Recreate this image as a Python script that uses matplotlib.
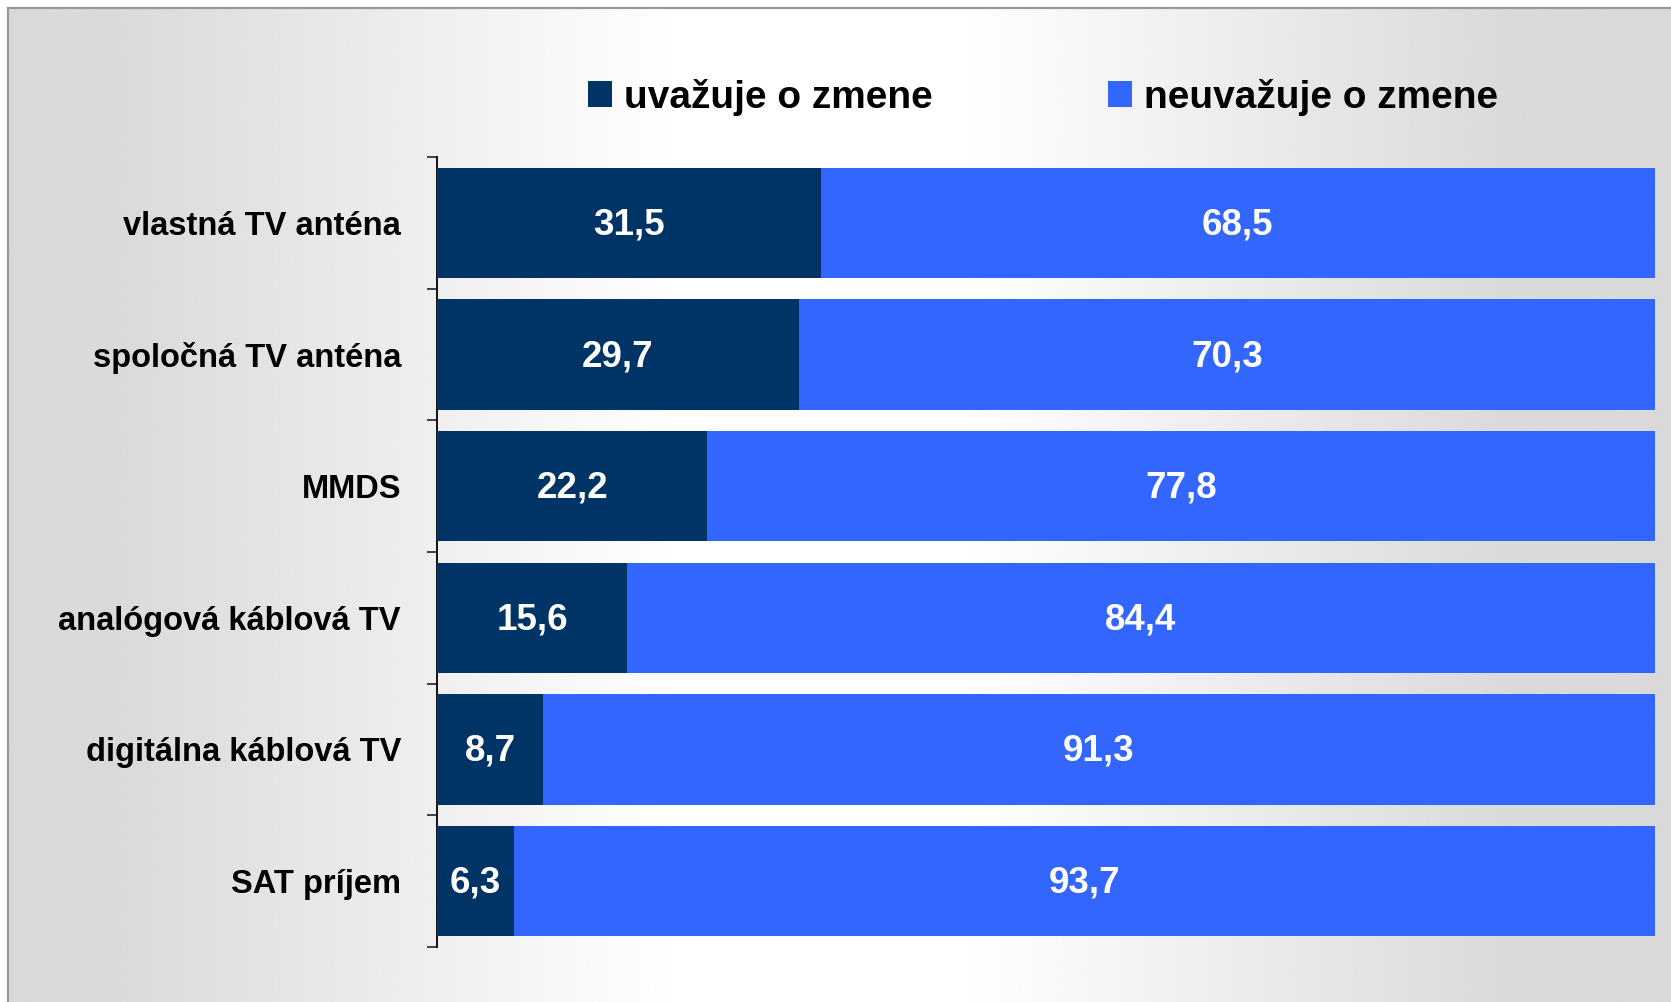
import numpy as np
import matplotlib.pyplot as plt
from matplotlib.patches import Patch
from matplotlib.lines import Line2D

plt.rcParams['font.family'] = ['Liberation Sans', 'DejaVu Sans']

# dati del grafico
kategorie = ['vlastná TV anténa', 'spoločná TV anténa', 'MMDS',
             'analógová káblová TV', 'digitálna káblová TV', 'SAT príjem']
uvazuje = [31.5, 29.7, 22.2, 15.6, 8.7, 6.3]
neuvazuje = [68.5, 70.3, 77.8, 84.4, 91.3, 93.7]
serie_nazvy = ['uvažuje o zmene', 'neuvažuje o zmene']
farby = ['#003366', '#3366FF']

W, H = 1671, 1002
fig = plt.figure(figsize=(W / 100, H / 100), dpi=100)
fig.patch.set_facecolor('white')

# sfondo con gradiente orizzontale (grigio - bianco - grigio)
bg = fig.add_axes([8 / W, 0, 1 - 8 / W, 1 - 8 / H], zorder=-5)
px = np.linspace(8, W, 800)
grad = np.interp(px, [8, 120, 680, 960, 1500, W], [0.85, 0.855, 1.0, 1.0, 0.855, 0.85])
bg.imshow(np.tile(grad, (2, 1)), cmap='gray', vmin=0, vmax=1,
          aspect='auto', extent=[0, 1, 0, 1], interpolation='bilinear')
bg.set_axis_off()
fig.add_artist(Line2D([8 / W, 8 / W], [0, 1 - 8 / H], color='#9a9a9a', lw=1.6,
                      transform=fig.transFigure))
fig.add_artist(Line2D([8 / W, 1], [1 - 8 / H, 1 - 8 / H], color='#9a9a9a', lw=1.6,
                      transform=fig.transFigure))

ax = fig.add_axes([437 / W, 1 - 946.7 / H, (1655 - 437) / W, (946.7 - 157.3) / H])
ax.patch.set_alpha(0)

y = np.arange(len(kategorie))
ax.barh(y, uvazuje, height=0.84, color=farby[0], zorder=3)
ax.barh(y, neuvazuje, left=uvazuje, height=0.84, color=farby[1], zorder=3)

# etichette dei valori
for i in range(len(kategorie)):
    ax.text(uvazuje[i] / 2, i + 0.015, f"{uvazuje[i]:.1f}".replace('.', ','),
            ha='center', va='center', color='white', fontsize=26.5,
            fontweight='bold', zorder=4)
    ax.text(uvazuje[i] + neuvazuje[i] / 2, i + 0.015, f"{neuvazuje[i]:.1f}".replace('.', ','),
            ha='center', va='center', color='white', fontsize=26.5,
            fontweight='bold', zorder=4)

ax.set_xlim(0, 100)
ax.set_ylim(len(kategorie) - 0.5, -0.5)
ax.set_yticks(y)
ax.set_yticklabels(kategorie, fontsize=23.5, fontweight='bold')
ax.set_yticks(np.arange(-0.5, len(kategorie)), minor=True)
ax.tick_params(axis='y', which='major', length=0, pad=26)
ax.tick_params(axis='y', which='minor', length=7, width=1.3, color='#333333')
ax.set_xticks([])
for s in ['top', 'right', 'bottom']:
    ax.spines[s].set_visible(False)
ax.spines['left'].set_linewidth(1.3)
ax.spines['left'].set_color('black')

# legenda
handles = [Patch(facecolor=farby[0]), Patch(facecolor=farby[1])]
fig.legend(handles, serie_nazvy, loc='center', ncol=2, frameon=False,
           bbox_to_anchor=(1043 / W, 1 - 97 / H),
           prop={'size': 28, 'weight': 'bold'},
           handlelength=0.63, handleheight=0.63, handletextpad=0.3,
           columnspacing=4.5)

fig.savefig('out.png', dpi=100)
